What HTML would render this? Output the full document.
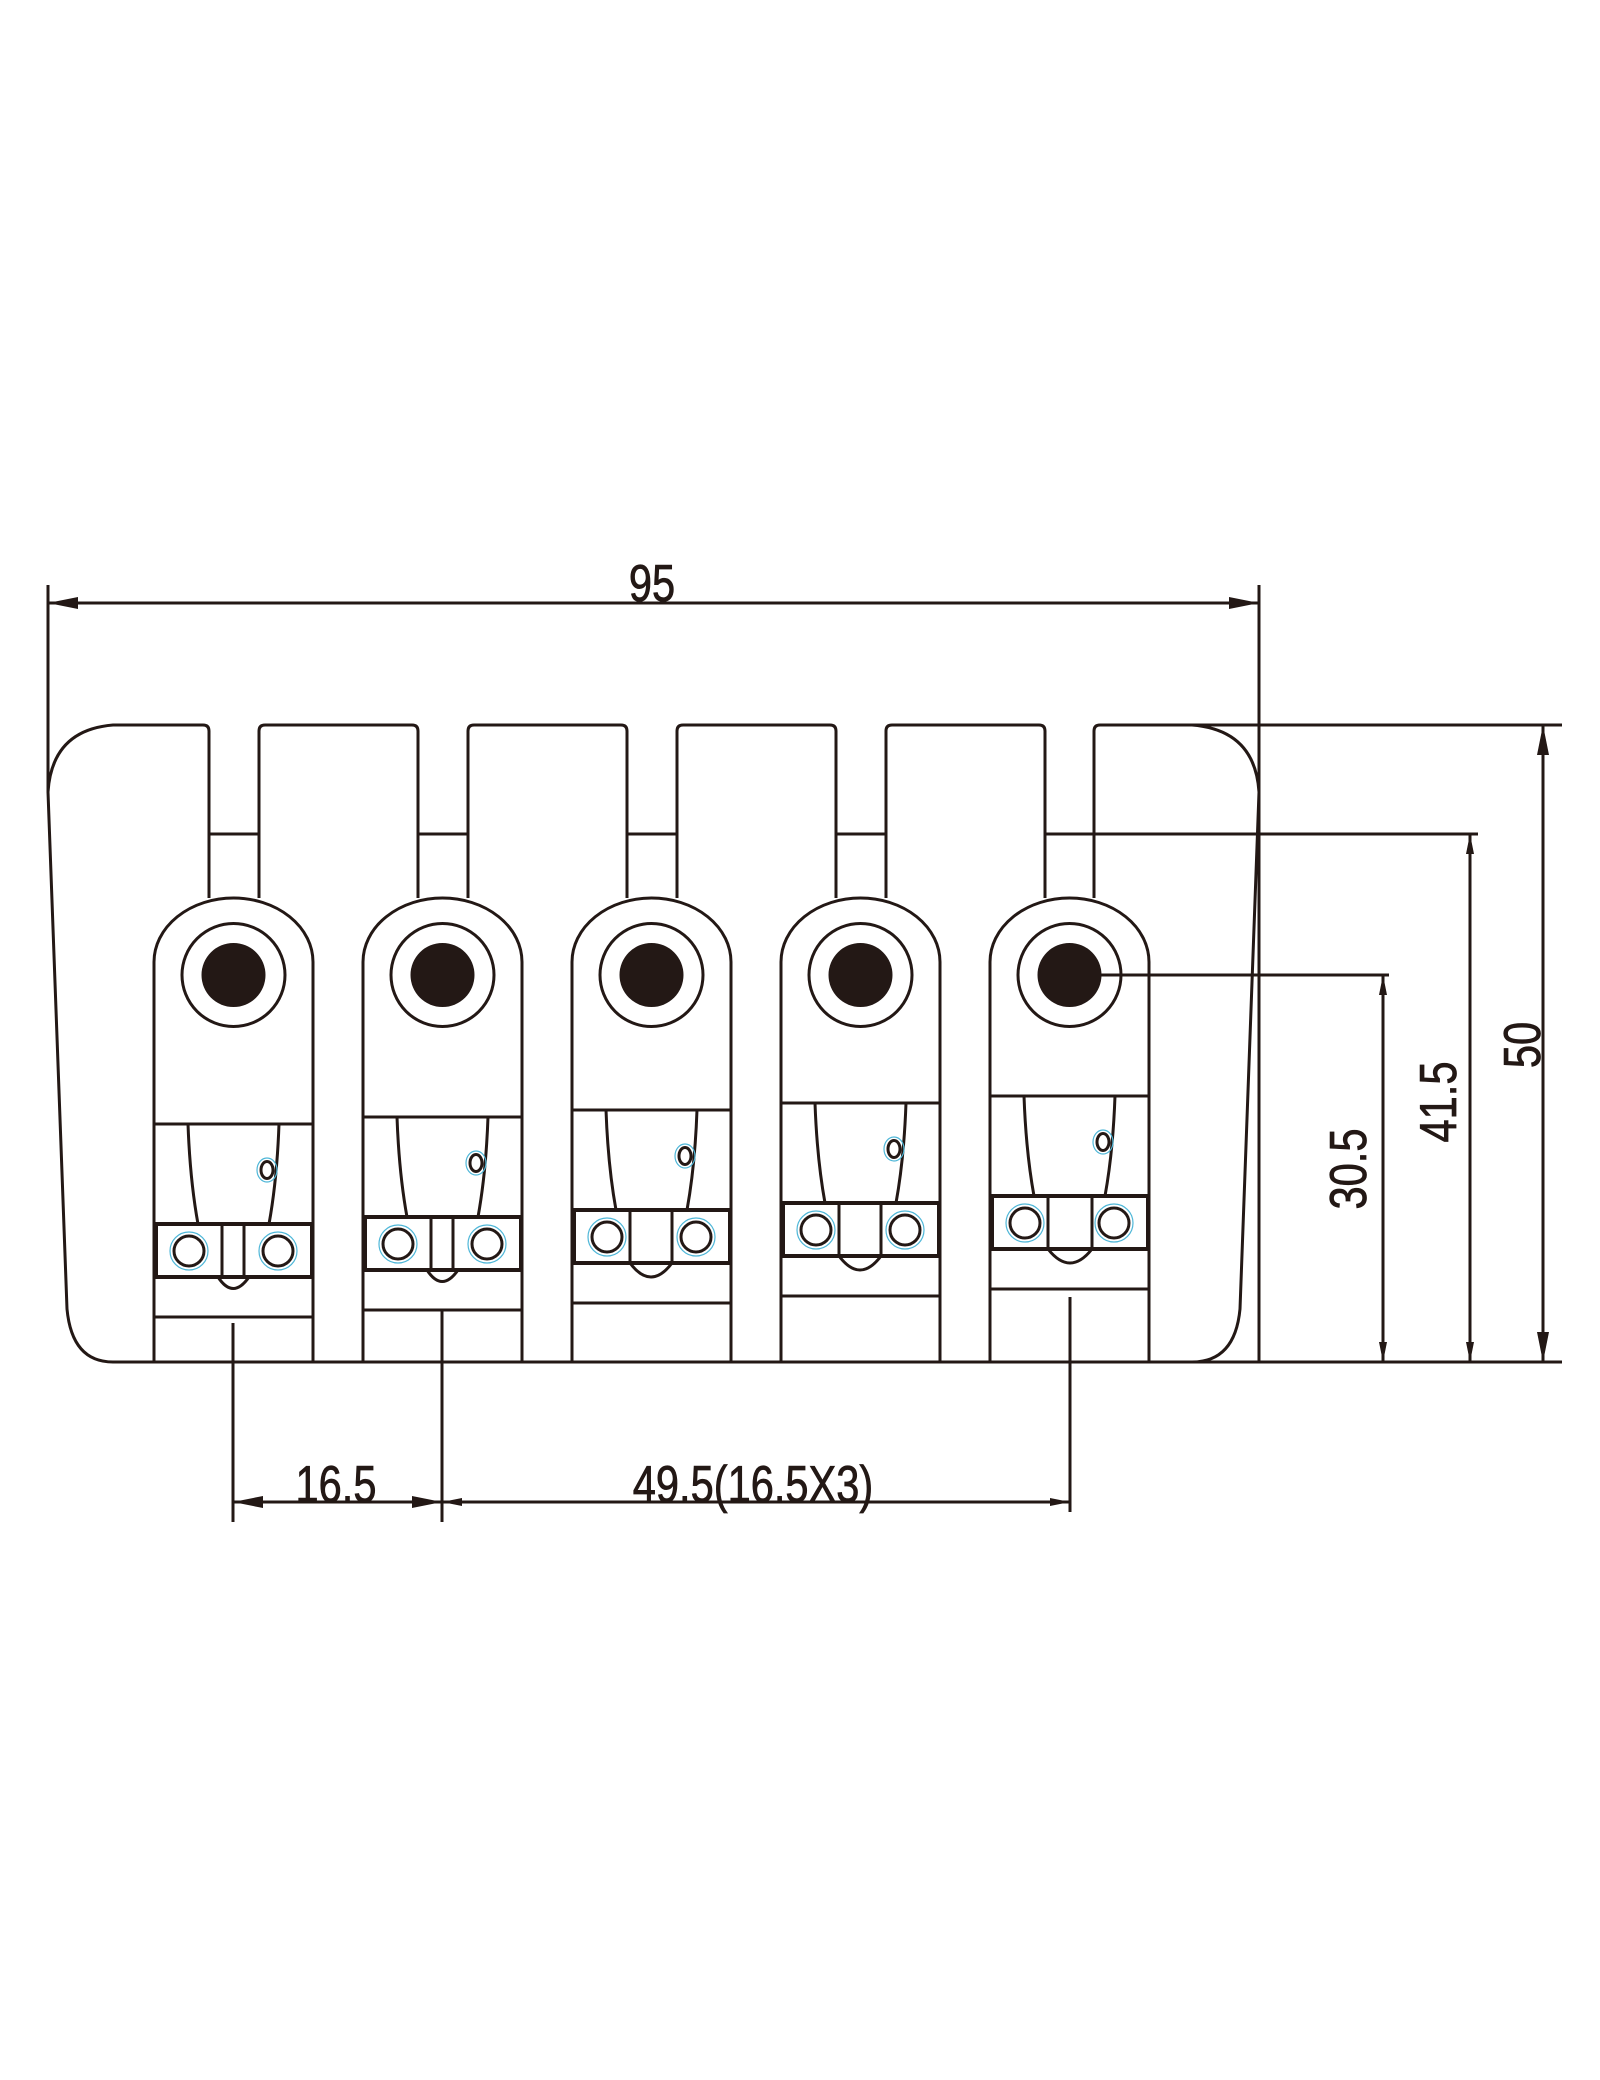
<!DOCTYPE html>
<html><head><meta charset="utf-8"><style>
html,body{margin:0;padding:0;background:#fff;}
svg{display:block;}
text{font-family:"Liberation Sans",sans-serif;font-size:52px;fill:#231815;stroke:#231815;stroke-width:0.8;}
</style></head><body>
<svg width="1600" height="2080" viewBox="0 0 1600 2080" xmlns="http://www.w3.org/2000/svg">
<defs>
<marker id="a" viewBox="0 0 30 12" refX="30" refY="6" markerWidth="30" markerHeight="12" markerUnits="userSpaceOnUse" orient="auto"><path d="M0,0 L30,6 L0,12 Z" fill="#231815"/></marker>
<marker id="s" viewBox="0 0 20 8" refX="20" refY="4" markerWidth="20" markerHeight="8" markerUnits="userSpaceOnUse" orient="auto"><path d="M0,0 L20,4 L0,8 Z" fill="#231815"/></marker>
</defs>
<g stroke="#231815" stroke-width="3" fill="none">
<path d="M209,834 V731 Q209,725 203,725 H113 Q52,730 48,792 L67,1309 Q72,1362 113,1362 H1192 Q1235,1362 1240,1309 L1259,792 Q1255,730 1192,725 H1100 Q1094,725 1094,731 V834"/>
<path d="M259,898 V731 Q259,725 265,725 H412 Q418,725 418,731 V898"/>
<path d="M468,898 V731 Q468,725 474,725 H621 Q627,725 627,731 V898"/>
<path d="M677,898 V731 Q677,725 683,725 H830 Q836,725 836,731 V898"/>
<path d="M886,898 V731 Q886,725 892,725 H1039 Q1045,725 1045,731 V898"/>
<path d="M209,834 V898 M1094,834 V898"/>
<path d="M209,834 H259 M418,834 H468 M627,834 H677 M836,834 H886 M1045,834 H1478"/>
<path d="M48,585 V792 M1259,585 V1362"/>
<line x1="650" y1="603" x2="48" y2="603" marker-end="url(#a)"/>
<line x1="650" y1="603" x2="1259" y2="603" marker-end="url(#a)"/>
<path d="M1192,725 H1562 M1192,1362 H1562"/>
<line x1="1543" y1="1040" x2="1543" y2="725" marker-end="url(#a)"/>
<line x1="1543" y1="1040" x2="1543" y2="1362" marker-end="url(#a)"/>
<line x1="1470" y1="1100" x2="1470" y2="834" marker-end="url(#s)"/>
<line x1="1470" y1="1100" x2="1470" y2="1362" marker-end="url(#s)"/>
<path d="M1070,975 H1389"/>
<line x1="1383" y1="1170" x2="1383" y2="975" marker-end="url(#s)"/>
<line x1="1383" y1="1170" x2="1383" y2="1362" marker-end="url(#s)"/>
<path d="M233,1323 V1522 M442,1310 V1522 M1070,1297 V1512"/>
<line x1="340" y1="1502" x2="233" y2="1502" marker-end="url(#a)"/>
<line x1="340" y1="1502" x2="442" y2="1502" marker-end="url(#a)"/>
<line x1="700" y1="1502" x2="442" y2="1502" marker-end="url(#s)"/>
<line x1="700" y1="1502" x2="1070" y2="1502" marker-end="url(#s)"/>
</g>
<g stroke="#231815" stroke-width="3" fill="none">
<g transform="translate(0,0)">
 <path d="M154,1362 V962 A79.5,64 0 0 1 313,962 V1362"/>
 <circle cx="233.5" cy="975" r="51.5"/><circle cx="233.5" cy="975" r="32" fill="#231815" stroke="none"/>
 <path d="M154,1124 H313 M188,1124 Q190,1180 198,1224 M279,1124 Q277,1180 269,1224 M154,1317 H313"/>
 <rect x="156" y="1224" width="156" height="53" stroke-width="4"/>
 <path d="M222,1224 V1277 M244,1224 V1277 M218,1277 Q233,1300 249,1277"/>
 <ellipse cx="267" cy="1170" rx="6" ry="8.5"/><ellipse cx="267" cy="1170" rx="10" ry="12" stroke="#4fb7d8" stroke-width="1.2"/>
 <circle cx="189" cy="1251" r="15"/><circle cx="278" cy="1251" r="15"/>
 <circle cx="189" cy="1251" r="19" stroke="#4fb7d8" stroke-width="1.2"/><circle cx="278" cy="1251" r="19" stroke="#4fb7d8" stroke-width="1.2"/>
</g>
<g transform="translate(209,-7)">
 <path d="M154,1369 V969 A79.5,64 0 0 1 313,969 V1369"/>
 <circle cx="233.5" cy="982" r="51.5"/><circle cx="233.5" cy="982" r="32" fill="#231815" stroke="none"/>
 <path d="M154,1124 H313 M188,1124 Q190,1180 198,1224 M279,1124 Q277,1180 269,1224 M154,1317 H313"/>
 <rect x="156" y="1224" width="156" height="53" stroke-width="4"/>
 <path d="M222,1224 V1277 M244,1224 V1277 M218,1277 Q233,1300 249,1277"/>
 <ellipse cx="267" cy="1170" rx="6" ry="8.5"/><ellipse cx="267" cy="1170" rx="10" ry="12" stroke="#4fb7d8" stroke-width="1.2"/>
 <circle cx="189" cy="1251" r="15"/><circle cx="278" cy="1251" r="15"/>
 <circle cx="189" cy="1251" r="19" stroke="#4fb7d8" stroke-width="1.2"/><circle cx="278" cy="1251" r="19" stroke="#4fb7d8" stroke-width="1.2"/>
</g>
<g transform="translate(418,-14)">
 <path d="M154,1376 V976 A79.5,64 0 0 1 313,976 V1376"/>
 <circle cx="233.5" cy="989" r="51.5"/><circle cx="233.5" cy="989" r="32" fill="#231815" stroke="none"/>
 <path d="M154,1124 H313 M188,1124 Q190,1180 198,1224 M279,1124 Q277,1180 269,1224 M154,1317 H313"/>
 <rect x="156" y="1224" width="156" height="53" stroke-width="4"/>
 <path d="M212,1224 V1277 M254,1224 V1277 M212,1277 Q233,1305 254,1277"/>
 <ellipse cx="267" cy="1170" rx="6" ry="8.5"/><ellipse cx="267" cy="1170" rx="10" ry="12" stroke="#4fb7d8" stroke-width="1.2"/>
 <circle cx="189" cy="1251" r="15"/><circle cx="278" cy="1251" r="15"/>
 <circle cx="189" cy="1251" r="19" stroke="#4fb7d8" stroke-width="1.2"/><circle cx="278" cy="1251" r="19" stroke="#4fb7d8" stroke-width="1.2"/>
</g>
<g transform="translate(627,-21)">
 <path d="M154,1383 V983 A79.5,64 0 0 1 313,983 V1383"/>
 <circle cx="233.5" cy="996" r="51.5"/><circle cx="233.5" cy="996" r="32" fill="#231815" stroke="none"/>
 <path d="M154,1124 H313 M188,1124 Q190,1180 198,1224 M279,1124 Q277,1180 269,1224 M154,1317 H313"/>
 <rect x="156" y="1224" width="156" height="53" stroke-width="4"/>
 <path d="M212,1224 V1277 M254,1224 V1277 M212,1277 Q233,1305 254,1277"/>
 <ellipse cx="267" cy="1170" rx="6" ry="8.5"/><ellipse cx="267" cy="1170" rx="10" ry="12" stroke="#4fb7d8" stroke-width="1.2"/>
 <circle cx="189" cy="1251" r="15"/><circle cx="278" cy="1251" r="15"/>
 <circle cx="189" cy="1251" r="19" stroke="#4fb7d8" stroke-width="1.2"/><circle cx="278" cy="1251" r="19" stroke="#4fb7d8" stroke-width="1.2"/>
</g>
<g transform="translate(836,-28)">
 <path d="M154,1390 V990 A79.5,64 0 0 1 313,990 V1390"/>
 <circle cx="233.5" cy="1003" r="51.5"/><circle cx="233.5" cy="1003" r="32" fill="#231815" stroke="none"/>
 <path d="M154,1124 H313 M188,1124 Q190,1180 198,1224 M279,1124 Q277,1180 269,1224 M154,1317 H313"/>
 <rect x="156" y="1224" width="156" height="53" stroke-width="4"/>
 <path d="M212,1224 V1277 M256,1224 V1277 M212,1277 Q234,1305 256,1277"/>
 <ellipse cx="267" cy="1170" rx="6" ry="8.5"/><ellipse cx="267" cy="1170" rx="10" ry="12" stroke="#4fb7d8" stroke-width="1.2"/>
 <circle cx="189" cy="1251" r="15"/><circle cx="278" cy="1251" r="15"/>
 <circle cx="189" cy="1251" r="19" stroke="#4fb7d8" stroke-width="1.2"/><circle cx="278" cy="1251" r="19" stroke="#4fb7d8" stroke-width="1.2"/>
</g>
</g>
<text transform="translate(652,601) scale(0.8,1)" text-anchor="middle">95</text>
<text transform="translate(336,1502) scale(0.8,1)" text-anchor="middle">16.5</text>
<text transform="translate(753,1502) scale(0.8,1)" text-anchor="middle">49.5(16.5X3)</text>
<text transform="translate(1540,1045) rotate(-90) scale(0.8,1)" text-anchor="middle">50</text>
<text transform="translate(1456,1102) rotate(-90) scale(0.8,1)" text-anchor="middle">41.5</text>
<text transform="translate(1366,1169) rotate(-90) scale(0.8,1)" text-anchor="middle">30.5</text>
</svg>
</body></html>
